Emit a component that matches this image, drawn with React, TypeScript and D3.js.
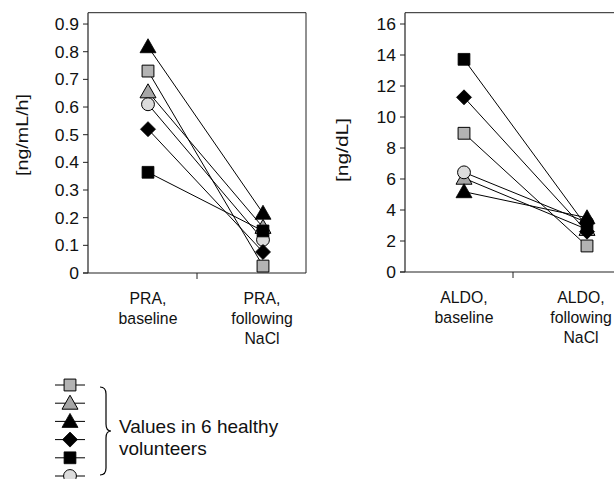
import React from "react";
import * as d3 from "d3";

// ---- data ----
const subjects = ["graySquare", "grayTriangle", "lightCircle", "blackDiamond", "blackSquare", "blackTriangle"];
const legendOrder = ["graySquare", "grayTriangle", "blackTriangle", "blackDiamond", "blackSquare", "lightCircle"];
const praBaseline = [0.73, 0.655, 0.61, 0.52, 0.364, 0.818];
const praFollowing = [0.025, 0.165, 0.12, 0.076, 0.152, 0.216];
const aldoBaseline = [8.95, 6.05, 6.43, 11.27, 13.72, 5.18];
const aldoFollowing = [1.68, 2.75, 3.2, 2.6, 2.9, 3.5];
const praTicks = [0, 0.1, 0.2, 0.3, 0.4, 0.5, 0.6, 0.7, 0.8, 0.9];
const aldoTicks = [0, 2, 4, 6, 8, 10, 12, 14, 16];
const praCategories = [["PRA,", "baseline"], ["PRA,", "following", "NaCl"]];
const aldoCategories = [["ALDO,", "baseline"], ["ALDO,", "following", "NaCl"]];
const praUnit = "[ng/mL/h]";
const aldoUnit = "[ng/dL]";
const legendText = ["Values in 6 healthy", "volunteers"];

const FONT = "'Liberation Sans', Arial, sans-serif";
const INK = "#111";

const markerStyle: Record<string, { fill: string; shape: string }> = {
  graySquare: { fill: "#b3b3b3", shape: "square" },
  grayTriangle: { fill: "#a6a6a6", shape: "triangle" },
  lightCircle: { fill: "#dcdcdc", shape: "circle" },
  blackDiamond: { fill: "#000", shape: "diamond" },
  blackSquare: { fill: "#000", shape: "square" },
  blackTriangle: { fill: "#000", shape: "triangle" },
};

function markerPath(shape: string): string {
  if (shape === "square") return d3.symbol(d3.symbolSquare, 140)() as string;
  if (shape === "circle") return d3.symbol(d3.symbolCircle, 130)() as string;
  if (shape === "diamond") return "M0,-7.5L7.5,0L0,7.5L-7.5,0Z";
  return "M0,-8L8,6L-8,6Z";
}

function Marker({ id, x, y }: { id: string; x: number; y: number }) {
  const s = markerStyle[id];
  return (
    <path
      d={markerPath(s.shape)}
      transform={`translate(${x},${y})`}
      fill={s.fill}
      stroke="#000"
      strokeWidth={s.fill === "#000" ? 0.8 : 1}
    />
  );
}

function SText({
  x,
  y,
  sx = 1,
  size,
  anchor = "start",
  children,
}: {
  x: number;
  y: number;
  sx?: number;
  size: number;
  anchor?: string;
  children: React.ReactNode;
}) {
  return (
    <g transform={`translate(${x},${y}) scale(${sx},1)`}>
      <text x={0} y={0} textAnchor={anchor} fontSize={size} fill={INK}>
        {children}
      </text>
    </g>
  );
}

type PanelProps = {
  left: number;
  right: number;
  top: number;
  bottom: number;
  catX: [number, number];
  labelX: [number, number];
  yMax: number;
  ticks: number[];
  base: number[];
  follow: number[];
  cats: string[][];
  unit: string;
  unitX: number;
  unitY: number;
  unitLen: number;
};

function Panel(p: PanelProps) {
  const y = d3.scaleLinear().domain([0, p.yMax]).range([p.bottom, p.top]);
  const x = d3.scalePoint<number>().domain([0, 1]).range(p.catX);
  const lx = d3.scalePoint<number>().domain([0, 1]).range(p.labelX);
  const mid = (p.left + p.right) / 2;
  return (
    <g fontFamily={FONT}>
      {/* frame */}
      <line x1={p.left} x2={p.right} y1={p.top} y2={p.top} stroke="#222" strokeWidth={1} />
      <line x1={p.right} x2={p.right} y1={p.top} y2={p.bottom} stroke="#222" strokeWidth={1} />
      <line x1={p.left} x2={p.left} y1={p.top} y2={p.bottom} stroke="#222" strokeWidth={1.2} />
      <line x1={p.left - 5} x2={p.right} y1={p.bottom} y2={p.bottom} stroke="#222" strokeWidth={1.2} />
      <line x1={mid} x2={mid} y1={p.bottom} y2={p.bottom + 6} stroke="#222" strokeWidth={1} />
      {p.ticks.map((t) => (
        <g key={t}>
          <line x1={p.left - 5} x2={p.left} y1={y(t)} y2={y(t)} stroke="#222" strokeWidth={1} />
          <SText x={p.left - 9} y={y(t) + 6} size={17} anchor="end" sx={1.03}>
            {String(t)}
          </SText>
        </g>
      ))}
      <text
        transform={`translate(${p.unitX},${p.unitY}) rotate(-90)`}
        textAnchor="middle"
        fontSize={17}
        fill={INK}
        textLength={p.unitLen}
        lengthAdjust="spacingAndGlyphs"
      >
        {p.unit}
      </text>
      {p.cats.map((lines, i) =>
        lines.map((l, j) => (
          <SText key={`${i}-${j}`} x={lx(i)!} y={p.bottom + 31 + j * 20} size={17} sx={0.93} anchor="middle">
            {l}
          </SText>
        ))
      )}
      {subjects.map((s, i) => (
        <line
          key={s}
          x1={x(0)}
          y1={y(p.base[i])}
          x2={x(1)}
          y2={y(p.follow[i])}
          stroke="#000"
          strokeWidth={1}
        />
      ))}
      {subjects.map((s, i) => (
        <g key={s}>
          <Marker id={s} x={x(0)!} y={y(p.base[i])} />
          <Marker id={s} x={x(1)!} y={y(p.follow[i])} />
        </g>
      ))}
    </g>
  );
}

export default function App() {
  const legendY = d3.scalePoint<string>().domain(legendOrder).range([385, 476]);
  return (
    <svg
      width={614}
      height={479}
      style={{ position: "absolute", left: 0, top: 0, background: "#fff" }}
    >
      <rect width={614} height={479} fill="#fff" />
      <Panel
        left={88}
        right={306}
        top={12.7}
        bottom={273}
        catX={[148, 263]}
        labelX={[148, 262]}
        yMax={0.941}
        ticks={praTicks}
        base={praBaseline}
        follow={praFollowing}
        cats={praCategories}
        unit={praUnit}
        unitX={28}
        unitY={135}
        unitLen={82}
      />
      <Panel
        left={405}
        right={621}
        top={12.7}
        bottom={272}
        catX={[464, 587]}
        labelX={[464, 581]}
        yMax={16.73}
        ticks={aldoTicks}
        base={aldoBaseline}
        follow={aldoFollowing}
        cats={aldoCategories}
        unit={aldoUnit}
        unitX={348}
        unitY={150}
        unitLen={64}
      />
      {/* legend */}
      <g fontFamily={FONT}>
        {legendOrder.map((s) => (
          <g key={s}>
            <line x1={55} x2={85} y1={legendY(s)} y2={legendY(s)} stroke="#000" strokeWidth={1} />
            <Marker id={s} x={70} y={legendY(s)!} />
          </g>
        ))}
        <path
          d="M100,387 Q106,387 106,394 L106,424 Q106,431 111,431 Q106,431 106,438 L106,468 Q106,475 100,475"
          fill="none"
          stroke="#000"
          strokeWidth={1.2}
        />
        <SText x={119} y={433} size={19}>
          {legendText[0]}
        </SText>
        <SText x={119} y={455} size={19}>
          {legendText[1]}
        </SText>
      </g>
    </svg>
  );
}
